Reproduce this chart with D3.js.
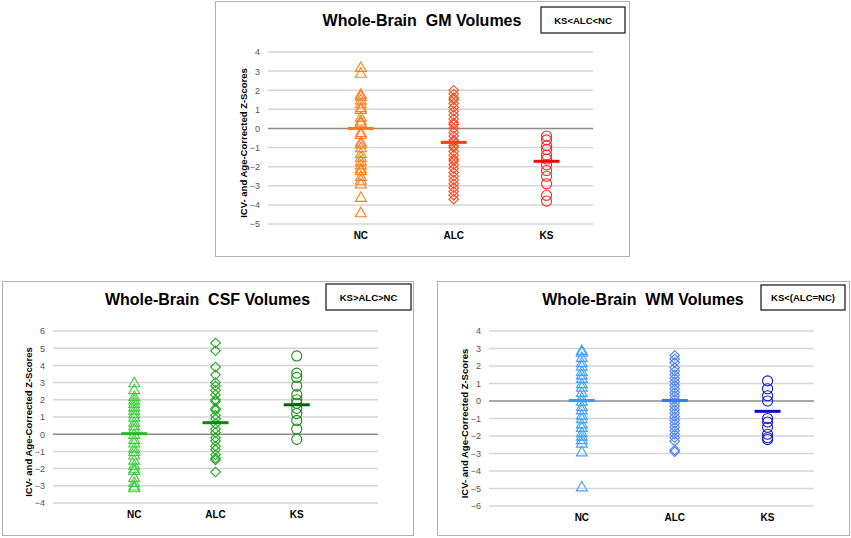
<!DOCTYPE html>
<html>
<head>
<meta charset="utf-8">
<script src="https://cdn.jsdelivr.net/npm/d3@7"></script>
<style>
  body { margin: 0; background: #fff; }
  svg { display: block; font-family: "Liberation Sans", Arial, sans-serif; }
</style>
</head>
<body>
<svg id="chart" width="851" height="538"></svg>
<script>
// groups on the x axis
const groups = ["NC", "ALC", "KS"];

// GM z-scores
const gmNC = [3.2, 2.9, 1.8, 1.7, 1.5, 1.3, 1.1, 1.0, 0.6, 0.4, 0.3, -0.2, -0.3, -0.7, -0.8, -1.0, -1.3, -1.5, -1.7, -1.9, -2.1, -2.2, -2.5, -2.7, -2.9, -3.6, -4.4];
const gmALC = [2.0, 1.8, 1.6, 1.5, 1.3, 1.1, 0.9, 0.7, 0.5, 0.3, 0.2, 0.0, -0.2, -0.4, -0.6, -0.7, -0.9, -1.0, -1.2, -1.4, -1.6, -1.7, -1.9, -2.1, -2.3, -2.5, -2.7, -2.9, -3.1, -3.3, -3.5, -3.7];
const gmKS = [-0.4, -0.6, -0.9, -1.1, -1.4, -1.6, -1.9, -2.2, -2.5, -2.9, -3.5, -3.8];
const gmMeans = [0.0, -0.73, -1.72];

// CSF z-scores
const csfNC = [3.0, 2.6, 2.2, 2.0, 1.8, 1.6, 1.4, 1.2, 1.0, 0.7, 0.5, 0.3, 0.0, -0.3, -0.5, -0.8, -1.0, -1.2, -1.5, -1.8, -2.0, -2.1, -2.5, -2.8, -3.0, -3.1];
const csfALC = [5.3, 4.85, 3.9, 3.45, 3.0, 2.8, 2.55, 2.3, 2.0, 1.9, 1.5, 1.4, 1.1, 0.9, 0.6, 0.3, 0.1, -0.2, -0.4, -0.7, -0.9, -1.2, -1.4, -1.5, -2.2];
const csfKS = [4.55, 3.55, 3.3, 2.8, 2.3, 2.0, 1.8, 1.5, 1.2, 0.8, 0.3, -0.3];
const csfMeans = [0.03, 0.67, 1.71];

// WM z-scores
const wmNC = [2.9, 2.8, 2.5, 2.2, 2.0, 1.7, 1.5, 1.3, 1.0, 0.8, 0.5, 0.2, 0.0, -0.3, -0.5, -0.8, -1.0, -1.3, -1.5, -1.8, -2.0, -2.2, -2.4, -2.9, -4.9];
const wmALC = [2.6, 2.4, 2.2, 1.9, 1.7, 1.5, 1.3, 1.1, 0.9, 0.7, 0.5, 0.3, 0.1, -0.1, -0.3, -0.5, -0.7, -0.9, -1.1, -1.3, -1.5, -1.7, -1.9, -2.1, -2.3, -2.8, -2.9];
const wmKS = [1.15, 0.7, 0.3, 0.0, -1.0, -1.2, -1.5, -1.9, -2.1, -2.2];
const wmMeans = [0.03, 0.03, -0.59];

// y axis ranges (tick labels)
const gmTicks = d3.range(-5, 5);
const csfTicks = d3.range(-4, 7);
const wmTicks = d3.range(-6, 5);

const svg = d3.select("#chart");

const panels = [
  {
    title: "Whole-Brain  GM Volumes", note: "KS<ALC<NC",
    frame: [215, 1, 629, 256], plot: [268, 593, 52, 224], xMax: 3.5,
    ticks: gmTicks, series: [gmNC, gmALC, gmKS], means: gmMeans,
    colors: ["#ff7f1e", "#ff4a1c", "#ff2424"], meanColors: ["#ff7a18", "#ff4000", "#ee0a0a"],
    titleY: 26, noteBox: [541, 7, 625, 33]
  },
  {
    title: "Whole-Brain  CSF Volumes", note: "KS>ALC>NC",
    frame: [2, 281, 413, 535], plot: [53, 378, 331, 503], xMax: 4,
    ticks: csfTicks, series: [csfNC, csfALC, csfKS], means: csfMeans,
    colors: ["#3ccc3c", "#22a822", "#1e8c1e"], meanColors: ["#22bb22", "#0a8a0a", "#006400"],
    titleY: 305, noteBox: [326, 284, 411, 310]
  },
  {
    title: "Whole-Brain  WM Volumes", note: "KS<(ALC=NC)",
    frame: [437, 281, 849, 535], plot: [489, 814, 331, 506], xMax: 3.5,
    ticks: wmTicks, series: [wmNC, wmALC, wmKS], means: wmMeans,
    colors: ["#42a2f5", "#4a7ef5", "#1a1ad0"], meanColors: ["#3a9cf5", "#3f78f5", "#0a0ac8"],
    titleY: 305, noteBox: [761, 285, 845, 310]
  }
];

// triangle, diamond (a square turned 45 degrees), circle
const shapes = [d3.symbolTriangle, d3.symbolSquare, d3.symbolCircle];
const shapeSize = [52, 46, 80];
const shapeTurn = [0, 45, 0];

panels.forEach(p => {
  const g = svg.append("g");
  const [fx0, fy0, fx1, fy1] = p.frame;
  const [px0, px1, py0, py1] = p.plot;

  g.append("rect")
    .attr("x", fx0 + 0.5).attr("y", fy0 + 0.5)
    .attr("width", fx1 - fx0).attr("height", fy1 - fy0)
    .attr("fill", "#fff").attr("stroke", "#b0b0b0");

  const x = d3.scaleLinear().domain([0, p.xMax]).range([px0, px1]);
  const y = d3.scaleLinear().domain(d3.extent(p.ticks).reverse()).range([py0, py1]);

  // gridlines
  g.selectAll(".grid").data(p.ticks).join("line")
    .attr("x1", px0).attr("x2", px1)
    .attr("y1", d => y(d)).attr("y2", d => y(d))
    .attr("stroke", d => d === 0 ? "#8c8c8c" : "#d6d6d6")
    .attr("stroke-width", 1.5);

  // y axis tick labels
  const yAxis = d3.axisLeft(y).tickValues(p.ticks).tickSize(0).tickPadding(8);
  const ya = g.append("g").attr("transform", `translate(${px0},0)`).call(yAxis);
  ya.select(".domain").remove();
  ya.selectAll("text").attr("font-size", 9).attr("fill", "#555")
    .attr("font-family", "Liberation Sans, Arial, sans-serif");

  // category labels
  g.selectAll(".cat").data(groups).join("text")
    .attr("x", (d, i) => x(i + 1)).attr("y", py1 + 15)
    .attr("text-anchor", "middle").attr("font-size", 10).attr("font-weight", "bold")
    .text(d => d);

  // y axis title
  g.append("text")
    .attr("transform", `translate(${px0 - 21},${(py0 + py1) / 2 + 5}) rotate(-90)`)
    .attr("text-anchor", "middle").attr("font-size", 9.5).attr("font-weight", "bold")
    .text("ICV- and Age-Corrected Z-Scores");

  // points
  p.series.forEach((vals, i) => {
    g.append("g").selectAll("path").data(vals).join("path")
      .attr("d", d3.symbol().type(shapes[i]).size(shapeSize[i]))
      .attr("transform", d => `translate(${x(i + 1)},${y(d) + (i === 0 ? 1 : 0)}) rotate(${shapeTurn[i]})`)
      .attr("fill", "none").attr("stroke", p.colors[i]).attr("stroke-width", 1.1);
  });

  // group means
  g.selectAll(".mean").data(p.means).join("line")
    .attr("x1", (d, i) => x(i + 1) - 13).attr("x2", (d, i) => x(i + 1) + 13)
    .attr("y1", d => y(d)).attr("y2", d => y(d))
    .attr("stroke", (d, i) => p.meanColors[i]).attr("stroke-width", 3);

  // title
  g.append("text")
    .attr("x", (fx0 + fx1) / 2).attr("y", p.titleY)
    .attr("text-anchor", "middle").attr("font-size", 16).attr("font-weight", "bold")
    .attr("xml:space", "preserve").style("white-space", "pre")
    .text(p.title);

  // result box
  const [bx0, by0, bx1, by1] = p.noteBox;
  g.append("rect").attr("x", bx0).attr("y", by0)
    .attr("width", bx1 - bx0).attr("height", by1 - by0)
    .attr("fill", "#fff").attr("stroke", "#222").attr("stroke-width", 1.3);
  g.append("text").attr("x", (bx0 + bx1) / 2).attr("y", (by0 + by1) / 2 + 3.5)
    .attr("text-anchor", "middle").attr("font-size", 9.5).attr("font-weight", "bold")
    .text(p.note);
});
</script>
</body>
</html>
